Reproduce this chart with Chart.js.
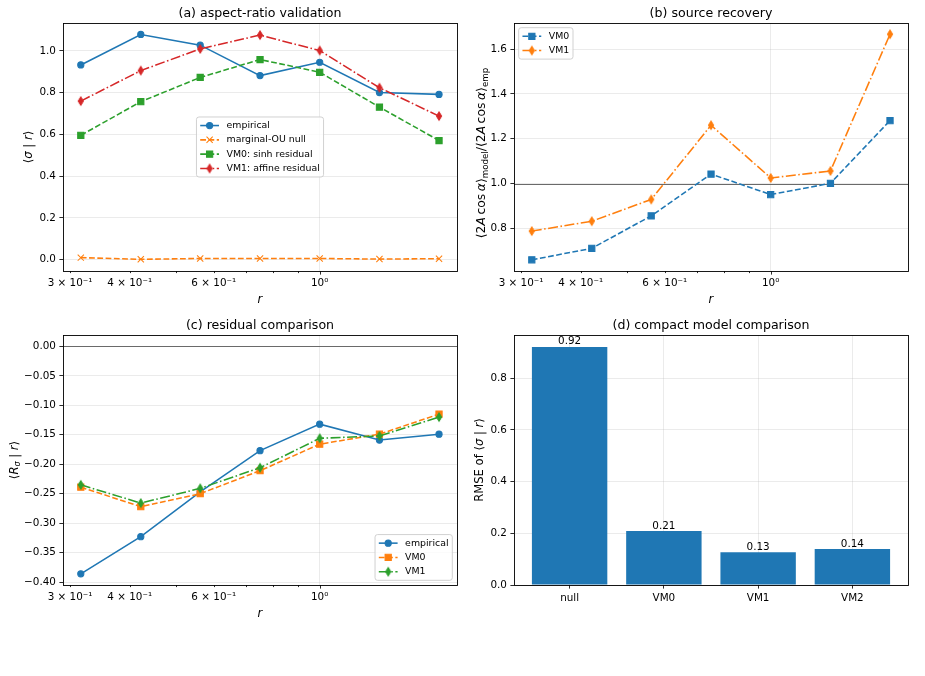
<!DOCTYPE html>
<html>
<head>
<meta charset="utf-8">
<script src="https://cdn.jsdelivr.net/npm/chart.js@4.4.1/dist/chart.umd.min.js"></script>
<style>
html, body { margin: 0; padding: 0; background: #fff; }
#wrap { position: relative; width: 925px; height: 676px; overflow: hidden; background: #fff; }
#wrap canvas { position: absolute; left: 0; top: 0; }
</style>
</head>
<body>
<div id="wrap">
  <canvas id="chartA" width="925" height="676"></canvas>
  <canvas id="chartB" width="925" height="676"></canvas>
  <canvas id="chartC" width="925" height="676"></canvas>
  <canvas id="chartD" width="925" height="676"></canvas>
</div>
<script>
// ---- data ----
const rVals = [0.316, 0.422, 0.562, 0.750, 1.000, 1.334, 1.778];

const aEmpirical = [0.933, 1.079, 1.028, 0.882, 0.946, 0.801, 0.792];
const aOuNull    = [0.010, 0.002, 0.006, 0.006, 0.006, 0.003, 0.005];
const aVm0       = [0.596, 0.757, 0.873, 0.959, 0.898, 0.731, 0.571];
const aVm1       = [0.760, 0.906, 1.010, 1.076, 1.002, 0.824, 0.688];

const bVm0 = [0.660, 0.711, 0.856, 1.042, 0.951, 1.001, 1.281];
const bVm1 = [0.788, 0.832, 0.929, 1.260, 1.025, 1.056, 1.666];

const cEmpirical = [-0.386, -0.323, -0.247, -0.177, -0.132, -0.159, -0.149];
const cVm0       = [-0.239, -0.272, -0.250, -0.211, -0.166, -0.149, -0.115];
const cVm1       = [-0.235, -0.266, -0.241, -0.206, -0.156, -0.152, -0.120];

const models = ['null', 'VM0', 'VM1', 'VM2'];
const rmse   = [0.921, 0.209, 0.127, 0.139];

// tick labels
const logTicks = [0.3, 0.4, 0.5, 0.6, 0.7, 0.8, 0.9, 1.0];
const logTickLabels = ['3 × 10⁻¹', '4 × 10⁻¹', '', '6 × 10⁻¹', '', '', '', '10⁰'];
const aYTicks = [0, 0.2, 0.4, 0.6, 0.8, 1.0];
const bYTicks = [0.8, 1.0, 1.2, 1.4, 1.6];
const cYTicks = [0, -0.05, -0.10, -0.15, -0.20, -0.25, -0.30, -0.35, -0.40];
const dYTicks = [0, 0.2, 0.4, 0.6, 0.8];

// ---- style ----
const FONT = '"DejaVu Sans", sans-serif';
const C0 = '#1f77b4', C1 = '#ff7f0e', C2 = '#2ca02c', C3 = '#d62728';
const GRID = 'rgba(176,176,176,0.3)';
const LW = 1.56;
const SOLID = [];
const DASH = [5.77, 2.5];
const DASHDOT = [9.98, 2.5, 1.56, 2.5];
const FS_TICK = 10.4, FS_LABEL = 11.6, FS_TITLE = 12.6, FS_LEG = 9.4;
const W = 925, H = 676, Y_W = 60, X_H = 25;

const boxA = { L: 63, R: 457, T: 23, B: 271 };
const boxB = { L: 514, R: 908, T: 23, B: 271 };
const boxC = { L: 63, R: 457, T: 335, B: 585 };
const boxD = { L: 514, R: 908, T: 335, B: 585 };

function fmt(v, d) { return v.toFixed(d).replace('-', '\u2212'); }

function thinDiamond(color) {
  const c = document.createElement('canvas');
  c.width = 8; c.height = 12;
  const g = c.getContext('2d');
  g.fillStyle = color; g.strokeStyle = color; g.lineWidth = 1;
  g.beginPath();
  g.moveTo(4, 1.6); g.lineTo(6.65, 6); g.lineTo(4, 10.4); g.lineTo(1.35, 6);
  g.closePath(); g.fill(); g.stroke();
  return c;
}

function markerOpts(m, color) {
  if (m === 'o') return { pointStyle: 'circle', pointRadius: 3.1 };
  if (m === 's') return { pointStyle: 'rect', pointRadius: 4.4 };
  if (m === 'x') return { pointStyle: 'crossRot', pointRadius: 4.4 };
  return { pointStyle: thinDiamond(color), pointRadius: 4.4 };
}

function series(label, ys, color, marker, dash, i, n) {
  return Object.assign({
    label: label,
    data: rVals.map((r, k) => ({ x: r, y: ys[k] })),
    borderColor: color, backgroundColor: color,
    pointBackgroundColor: color, pointBorderColor: color, pointBorderWidth: 1.04,
    borderWidth: LW, borderDash: dash, fill: false, tension: 0,
    order: n - i
  }, markerOpts(marker, color));
}

function drawMarker(ctx, d, x, y) {
  const st = d.pointStyle, r = d.pointRadius;
  ctx.save();
  ctx.setLineDash([]);
  ctx.fillStyle = d.borderColor; ctx.strokeStyle = d.borderColor; ctx.lineWidth = d.pointBorderWidth;
  if (st instanceof HTMLCanvasElement) {
    ctx.drawImage(st, x - st.width / 2, y - st.height / 2);
  } else if (st === 'circle') {
    ctx.beginPath(); ctx.arc(x, y, r, 0, 2 * Math.PI); ctx.fill(); ctx.stroke();
  } else if (st === 'rect') {
    const s = r * Math.SQRT1_2;
    ctx.beginPath(); ctx.rect(x - s, y - s, 2 * s, 2 * s); ctx.fill(); ctx.stroke();
  } else if (st === 'crossRot') {
    const s = r * Math.SQRT1_2;
    ctx.beginPath();
    ctx.moveTo(x - s, y - s); ctx.lineTo(x + s, y + s);
    ctx.moveTo(x + s, y - s); ctx.lineTo(x - s, y + s);
    ctx.stroke();
  }
  ctx.restore();
}

// rotated label with italic / subscript pieces: [text, flags]
function drawRich(ctx, segs, cx, cy, size, rotate) {
  const fontOf = f => (f.includes('i') ? 'italic ' : '') + (f.includes('s') ? size * 0.7 : size) + 'px ' + FONT;
  let total = 0;
  const ws = segs.map(([t, f]) => { ctx.font = fontOf(f); const w = ctx.measureText(t).width; total += w; return w; });
  ctx.save();
  ctx.translate(cx, cy);
  if (rotate) ctx.rotate(-Math.PI / 2);
  ctx.fillStyle = '#000'; ctx.textAlign = 'left'; ctx.textBaseline = 'alphabetic';
  let x = -total / 2;
  const base = size * 0.36;
  segs.forEach(([t, f], k) => {
    ctx.font = fontOf(f);
    ctx.fillText(t, x, base + (f.includes('s') ? size * 0.22 : 0));
    x += ws[k];
  });
  ctx.restore();
}

function makeDeco(cfg) {
  return {
    id: 'deco',
    beforeDatasetsDraw(chart) {
      if (cfg.hline === undefined) return;
      const { ctx, chartArea: a, scales } = chart;
      const y = Math.round(scales.y.getPixelForValue(cfg.hline)) + 0.5;
      ctx.save();
      ctx.strokeStyle = '#6a6a6a'; ctx.lineWidth = 1;
      ctx.beginPath(); ctx.moveTo(a.left, y); ctx.lineTo(a.right, y); ctx.stroke();
      ctx.restore();
    },
    afterDraw(chart) {
      const { ctx, chartArea: a } = chart;
      ctx.save();
      // tick marks on the log axis (major at 10^0, minor elsewhere)
      if (cfg.logAxis) {
        const sx = chart.scales.x;
        ctx.strokeStyle = '#000'; ctx.lineWidth = 0.83;
        logTicks.forEach(v => {
          const x = Math.round(sx.getPixelForValue(v)) + 0.5;
          ctx.beginPath(); ctx.moveTo(x, a.bottom); ctx.lineTo(x, a.bottom + (v === 1 ? 3.6 : 2.1)); ctx.stroke();
        });
      }
      // value labels over bars
      if (cfg.barLabels) {
        const meta = chart.getDatasetMeta(0);
        ctx.font = FS_TICK + 'px ' + FONT; ctx.fillStyle = '#000';
        ctx.textAlign = 'center'; ctx.textBaseline = 'alphabetic';
        meta.data.forEach((bar, i) => {
          ctx.fillText(chart.data.datasets[0].data[i].y.toFixed(2), bar.x, bar.y - 2.4);
        });
      }
      // spines
      ctx.strokeStyle = '#000'; ctx.lineWidth = 0.9;
      const l = Math.floor(a.left) + 0.5, r = Math.floor(a.right) + 0.5;
      const t = Math.floor(a.top) + 0.5, b = Math.floor(a.bottom) + 0.5;
      ctx.strokeRect(l, t, r - l, b - t);
      // title
      ctx.font = FS_TITLE + 'px ' + FONT; ctx.fillStyle = '#000';
      ctx.textAlign = 'center'; ctx.textBaseline = 'alphabetic';
      ctx.fillText(cfg.title, (a.left + a.right) / 2, a.top - 6.3);
      // axis labels
      if (cfg.xlabel) drawRich(ctx, [[cfg.xlabel, 'i']], (a.left + a.right) / 2, a.bottom + 28, FS_LABEL, false);
      drawRich(ctx, cfg.ylabel, cfg.ylabelX, (a.top + a.bottom) / 2 + (cfg.ylabelDY || 0), cfg.ylabelSize || FS_LABEL, true);
      // legend
      if (cfg.legend) {
        const fs = FS_LEG, bp = 0.4 * fs, hl = 2 * fs, htp = 0.8 * fs, rowH = 9.6, ls = 0.5 * fs;
        const dss = chart.data.datasets;
        ctx.font = fs + 'px ' + FONT;
        const tw = Math.max(...dss.map(d => ctx.measureText(d.label).width));
        const w = bp + hl + htp + tw + bp;
        const h = 2 * bp + dss.length * rowH + (dss.length - 1) * ls;
        let x0, y0;
        if (cfg.legend === 'center') { x0 = (a.left + a.right) / 2 - w / 2; y0 = (a.top + a.bottom) / 2 - h / 2; }
        else if (cfg.legend === 'upper left') { x0 = a.left + ls; y0 = a.top + ls; }
        else { x0 = a.right - ls - w; y0 = a.bottom - ls - h; }
        ctx.fillStyle = 'rgba(255,255,255,0.8)'; ctx.strokeStyle = '#cccccc'; ctx.lineWidth = 0.9;
        ctx.beginPath(); ctx.roundRect(x0, y0, w, h, 2.5); ctx.fill(); ctx.stroke();
        dss.forEach((d, i) => {
          const y = y0 + bp + rowH / 2 + i * (rowH + ls);
          ctx.strokeStyle = d.borderColor; ctx.lineWidth = d.borderWidth; ctx.setLineDash(d.borderDash);
          ctx.beginPath(); ctx.moveTo(x0 + bp, y); ctx.lineTo(x0 + bp + hl, y); ctx.stroke();
          ctx.setLineDash([]);
          drawMarker(ctx, d, x0 + bp + hl / 2, y);
          ctx.font = fs + 'px ' + FONT; ctx.fillStyle = '#000';
          ctx.textAlign = 'left'; ctx.textBaseline = 'middle';
          ctx.fillText(d.label, x0 + bp + hl + htp, y);
        });
      }
      ctx.restore();
    }
  };
}

function padding(box) {
  return { left: box.L - Y_W, right: W - box.R, top: box.T, bottom: H - box.B - X_H };
}

function yScale(min, max, ticks, dec, z) {
  return {
    min: min, max: max, z: z || 0,
    afterBuildTicks: s => { s.ticks = ticks.map(v => ({ value: v })); },
    afterFit: s => { s.width = Y_W; },
    ticks: { callback: (v, i) => fmt(ticks[i], dec), color: '#000', font: { family: FONT, size: FS_TICK }, padding: 3.5 },
    grid: { color: GRID, lineWidth: 0.83, tickColor: '#000', tickLength: 3.6, tickWidth: 0.83 },
    border: { display: false }
  };
}

function logX() {
  return {
    type: 'logarithmic', min: 0.290, max: 1.939,
    afterBuildTicks: s => { s.ticks = logTicks.map(v => ({ value: v })); },
    afterFit: s => { s.height = X_H; },
    ticks: { autoSkip: false, maxRotation: 0, minRotation: 0, padding: 5.6,
      callback: (v, i) => logTickLabels[i], color: '#000', font: { family: FONT, size: FS_TICK } },
    grid: { color: c => (c.tick && c.tick.value === 1 ? GRID : 'rgba(0,0,0,0)'), lineWidth: 0.83, drawTicks: false },
    border: { display: false }
  };
}

function lineChart(id, box, datasets, yCfg, deco) {
  return new Chart(document.getElementById(id), {
    type: 'line',
    data: { datasets: datasets },
    options: {
      responsive: false, animation: false, events: [],
      layout: { padding: padding(box) },
      plugins: { legend: { display: false }, tooltip: { enabled: false }, title: { display: false } },
      scales: { x: logX(), y: yCfg }
    },
    plugins: [makeDeco(deco)]
  });
}

lineChart('chartA', boxA, [
  series('empirical', aEmpirical, C0, 'o', SOLID, 0, 4),
  series('marginal-OU null', aOuNull, C1, 'x', DASH, 1, 4),
  series('VM0: sinh residual', aVm0, C2, 's', DASH, 2, 4),
  series('VM1: affine residual', aVm1, C3, 'd', DASHDOT, 3, 4)
], yScale(-0.054, 1.134, aYTicks, 1), {
  title: '(a) aspect-ratio validation', xlabel: 'r', logAxis: true, legend: 'center',
  ylabelX: 27.5,
  ylabel: [['⟨', ''], ['σ', 'i'], [' | ', ''], ['r', 'i'], ['⟩', '']]
});

lineChart('chartB', boxB, [
  series('VM0', bVm0, C0, 's', DASH, 0, 2),
  series('VM1', bVm1, C1, 'd', DASHDOT, 1, 2)
], yScale(0.610, 1.716, bYTicks, 1), {
  title: '(b) source recovery', xlabel: 'r', logAxis: true, legend: 'upper left', hline: 1.0,
  ylabelX: 481, ylabelSize: 12.4, ylabelDY: 6,
  ylabel: [['⟨2', ''], ['A', 'i'], ['\u2009cos', ''], ['\u2009', ''], ['α', 'i'], ['⟩', ''], ['model', 's'],
           ['/⟨2', ''], ['A', 'i'], ['\u2009cos', ''], ['\u2009', ''], ['α', 'i'], ['⟩', ''], ['emp', 's']]
});

lineChart('chartC', boxC, [
  series('empirical', cEmpirical, C0, 'o', SOLID, 0, 3),
  series('VM0', cVm0, C1, 's', DASH, 1, 3),
  series('VM1', cVm1, C2, 'd', DASHDOT, 2, 3)
], yScale(-0.405, 0.0193, cYTicks, 2), {
  title: '(c) residual comparison', xlabel: 'r', logAxis: true, legend: 'lower right', hline: 0,
  ylabelX: 13.5,
  ylabel: [['⟨', ''], ['R', 'i'], ['σ', 'is'], [' | ', ''], ['r', 'i'], ['⟩', '']]
});

new Chart(document.getElementById('chartD'), {
  type: 'bar',
  data: {
    datasets: [{
      label: 'RMSE',
      data: models.map((m, i) => ({ x: i, y: rmse[i] })),
      backgroundColor: C0, borderWidth: 0,
      barPercentage: 0.8, categoryPercentage: 1.0
    }]
  },
  options: {
    responsive: false, animation: false, events: [],
    layout: { padding: padding(boxD) },
    plugins: { legend: { display: false }, tooltip: { enabled: false }, title: { display: false } },
    scales: {
      x: {
        type: 'linear', offset: false, min: -0.59, max: 3.59, z: 1,
        afterBuildTicks: s => { s.ticks = models.map((m, i) => ({ value: i })); },
        afterFit: s => { s.height = X_H; },
        ticks: { autoSkip: false, maxRotation: 0, callback: (v, i) => models[i], color: '#000',
          font: { family: FONT, size: FS_TICK }, padding: 3.5 },
        grid: { offset: false, color: GRID, lineWidth: 0.83, tickColor: '#000', tickLength: 3.6, tickWidth: 0.83 },
        border: { display: false }
      },
      y: yScale(0, 0.967, dYTicks, 1, 1)
    }
  },
  plugins: [makeDeco({
    title: '(d) compact model comparison', barLabels: true,
    ylabelX: 478.5,
    ylabel: [['RMSE of ⟨', ''], ['σ', 'i'], [' | ', ''], ['r', 'i'], ['⟩', '']]
  })]
});
</script>
</body>
</html>
